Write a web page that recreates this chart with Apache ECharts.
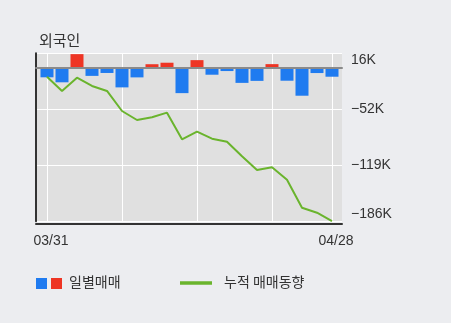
<!DOCTYPE html>
<html>
<head>
<meta charset="utf-8">
<script src="https://cdn.jsdelivr.net/npm/echarts@6/dist/echarts.min.js"></script>
<style>
  html, body { margin: 0; padding: 0; background: #ecedf0; }
  #chart { width: 451px; height: 323px; }
</style>
</head>
<body>
<div id="chart"></div>
<script>
// Trading days (2020)
const dates = ['03/31', '04/01', '04/02', '04/03', '04/06', '04/07', '04/08', '04/09', '04/10', '04/13',
               '04/14', '04/16', '04/17', '04/20', '04/21', '04/22', '04/23', '04/24', '04/27', '04/28'];
// Foreign investors' daily net trading, thousand shares
const dailyNet = [-11.5, -17.5, 16.3, -9.8, -6.3, -23.6, -11.6, 4.2, 6.0, -30.5,
                  9.1, -8.4, -4.0, -18.2, -15.8, 4.3, -15.6, -33.6, -6.4, -10.8];
// Cumulative net trading, thousand shares
const cumulativeNet = [-12.5, -29.7, -13.7, -23.7, -29.7, -53.8, -64.6, -61.4, -55.8, -87.8,
                       -78.7, -87.1, -90.7, -108.3, -124.8, -121.4, -136.4, -170.1, -176.1, -186.3];
// Right axis tick labels, top to bottom
const cumulativeTicks = ['16K', '\u221252K', '\u2212119K', '\u2212186K'];
const dateLabels = ['03/31', '04/28'];

const BLUE = '#1f7bf0';
const RED = '#ee3524';
const GREEN = '#6ab42d';
const DARK = '#333333';
const FONT_KR = '"Noto Sans CJK KR", "Noto Sans", sans-serif';
const FONT_NUM = '"Liberation Sans", Arial, sans-serif';

const chart = echarts.init(document.getElementById('chart'), null, { renderer: 'canvas' });

const lineMax = 15.6, lineMin = -186.45, lineStep = 67.35;

chart.setOption({
  backgroundColor: '#ecedf0',
  animation: false,
  title: {
    text: '외국인',
    left: 34,
    top: 28,
    textStyle: { fontFamily: FONT_KR, fontSize: 15, fontWeight: 'normal', color: DARK }
  },
  grid: [
    // plot area with bars and cumulative line
    { left: 36, right: 109, top: 53.3, bottom: 101.7, show: true, backgroundColor: '#e0e0e0', borderWidth: 0, z: 0 },
    // date axis, first to last trading day
    { left: 47, right: 119, top: 53.3, bottom: 101.7, show: false }
  ],
  xAxis: [
    { // zero baseline of the daily bars
      type: 'value', gridIndex: 0, min: -0.733, max: 19.667, position: 'top', z: 3,
      axisLine: { show: true, onZero: true, onZeroAxisIndex: 0, lineStyle: { color: '#8a8a8a', width: 2 } },
      axisTick: { show: false }, axisLabel: { show: false }, splitLine: { show: false }
    },
    { // bottom frame line
      type: 'value', gridIndex: 0, min: -0.733, max: 19.667, position: 'bottom', offset: 2,
      axisLine: { show: true, onZero: false, lineStyle: { color: DARK, width: 2 } },
      axisTick: { show: false }, axisLabel: { show: false }, splitLine: { show: false }
    },
    { // dates and vertical grid lines
      type: 'category', gridIndex: 1, data: dates, boundaryGap: false, z: 1,
      axisLine: { show: false }, axisTick: { show: false },
      axisLabel: {
        interval: (i) => dateLabels.includes(dates[i]),
        margin: 13, padding: [0, 0, 0, 8],
        color: DARK, fontSize: 14, fontFamily: FONT_NUM
      },
      splitLine: {
        show: true,
        interval: (i) => i % 5 === 0 || i === dates.length - 1,
        lineStyle: { color: '#ffffff', width: 1 }
      }
    }
  ],
  yAxis: [
    { // daily net scale
      type: 'value', gridIndex: 0, min: -184.3, max: 17.3, position: 'left',
      axisLine: { show: true, onZero: false, lineStyle: { color: DARK, width: 2 } },
      axisTick: { show: false }, axisLabel: { show: false }, splitLine: { show: false }
    },
    { // cumulative scale
      type: 'value', gridIndex: 0, min: lineMin, max: lineMax, interval: lineStep, position: 'right',
      axisLine: { show: false }, axisTick: { show: false },
      axisLabel: {
        margin: 9, color: DARK, fontSize: 14, fontFamily: FONT_NUM,
        verticalAlignMaxLabel: 'top', verticalAlignMinLabel: 'bottom',
        formatter: (v, idx) => cumulativeTicks[cumulativeTicks.length - 1 - idx]
      },
      splitLine: { show: true, lineStyle: { color: '#ffffff', width: 1 } }
    },
    { type: 'value', gridIndex: 1, show: false }
  ],
  series: [
    {
      name: '일별매매', type: 'bar', xAxisIndex: 0, yAxisIndex: 0, barWidth: 13,
      data: dailyNet.map((v, i) => ({ value: [i, v], itemStyle: { color: v >= 0 ? RED : BLUE } }))
    },
    {
      name: '누적 매매동향', type: 'line', xAxisIndex: 0, yAxisIndex: 1,
      showSymbol: false, symbol: 'none',
      lineStyle: { color: GREEN, width: 2 },
      data: cumulativeNet.map((v, i) => [i, v])
    }
  ],
  graphic: [
    { type: 'rect', left: 36, top: 278, shape: { width: 11, height: 11 }, style: { fill: BLUE } },
    { type: 'rect', left: 51, top: 278, shape: { width: 11, height: 11 }, style: { fill: RED } },
    { type: 'text', left: 69, top: 275, style: { text: '일별매매', fill: DARK, font: '14px ' + FONT_KR } },
    { type: 'line', shape: { x1: 180, y1: 283, x2: 212, y2: 283 }, style: { stroke: GREEN, lineWidth: 3.5 } },
    { type: 'text', left: 224, top: 275, style: { text: '누적 매매동향', fill: DARK, font: '14px ' + FONT_KR } }
  ]
});
</script>
</body>
</html>
